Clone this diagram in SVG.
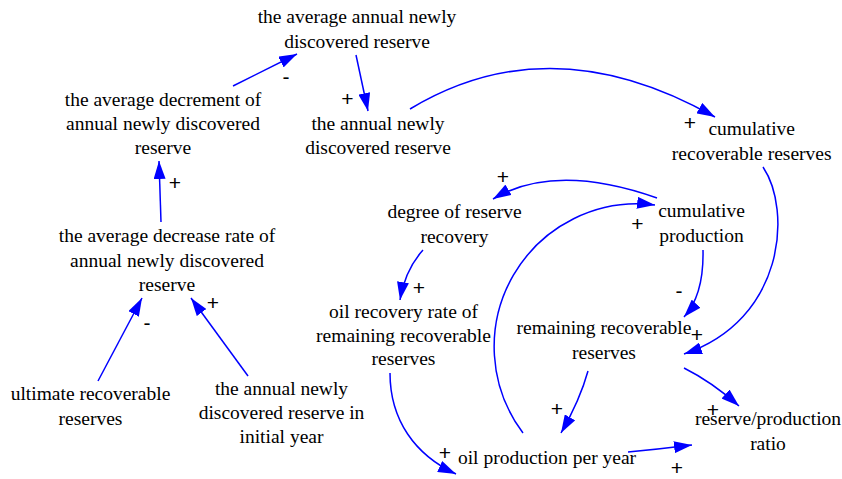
<svg xmlns="http://www.w3.org/2000/svg" width="842" height="479" viewBox="0 0 842 479">
<defs>
<style>
.n text{font-family:"Liberation Serif","Times New Roman",serif;font-size:19.5px;fill:#000;text-anchor:middle}
.lk path{fill:none;stroke:#0000FF;stroke-width:1.5;marker-end:url(#ah)}
.lb{font-family:"Liberation Sans",Arial,sans-serif;font-size:21px;fill:#000;text-anchor:middle}
</style>
<marker id="ah" markerUnits="userSpaceOnUse" markerWidth="18" markerHeight="12" refX="18" refY="6" orient="auto" viewBox="0 0 18 12">
<path d="M0,0 L18,6 L0,12 z" fill="#0000FF"/>
</marker>
</defs>
<rect width="842" height="479" fill="#fff"/>
<g id="connectors" class="lk">
<path d="M233,86 L297,54"/>
<path d="M356,55 L368,111"/>
<path d="M410,109 Q551,24 715,117"/>
<path d="M161,222 L159,161"/>
<path d="M98,381 L142,298"/>
<path d="M248,376 L191,298"/>
<path d="M423,250 Q405,270 400,300"/>
<path d="M657,198 Q555,162 493,199"/>
<path d="M523,433 A143,143 0 0 1 655,205"/>
<path d="M703,250 Q704,295 684,317"/>
<path d="M763,167 C792,210 785,320 684,354"/>
<path d="M390,373 C390,420 415,455 456,474"/>
<path d="M588,371 Q580,400 561,433"/>
<path d="M684,368 Q712,382 739,406"/>
<path d="M628,452 Q660,449 692,445"/>
</g>
<g id="labels">
<text class="lb" x="286" y="84">-</text>
<text class="lb" x="347.5" y="105.5">+</text>
<text class="lb" x="690" y="129.5">+</text>
<text class="lb" x="175" y="189.5">+</text>
<text class="lb" x="147" y="330">-</text>
<text class="lb" x="213" y="310">+</text>
<text class="lb" x="419" y="294.5">+</text>
<text class="lb" x="503" y="183.5">+</text>
<text class="lb" x="637.5" y="231">+</text>
<text class="lb" x="679" y="297.5">-</text>
<text class="lb" x="697" y="342">+</text>
<text class="lb" x="445" y="459.5">+</text>
<text class="lb" x="557" y="415.5">+</text>
<text class="lb" x="713" y="416.5">+</text>
<text class="lb" x="677" y="474.5">+</text>
</g>
<g id="n-avg-annual" class="n"><text x="357"><tspan x="357" y="23">the average annual newly</tspan><tspan x="357" y="48">discovered reserve</tspan></text></g>
<g id="n-avg-decrement" class="n"><text x="163"><tspan x="163" y="106">the average decrement of</tspan><tspan x="163" y="130">annual newly discovered</tspan><tspan x="163" y="154">reserve</tspan></text></g>
<g id="n-annual-new" class="n"><text x="378"><tspan x="378" y="130">the annual newly</tspan><tspan x="378" y="154">discovered reserve</tspan></text></g>
<g id="n-avg-rate" class="n"><text x="167"><tspan x="167" y="242">the average decrease rate of</tspan><tspan x="167" y="266.5">annual newly discovered</tspan><tspan x="167" y="291">reserve</tspan></text></g>
<g id="n-ultimate" class="n"><text x="90.5"><tspan x="90.5" y="400">ultimate recoverable</tspan><tspan x="90.5" y="425">reserves</tspan></text></g>
<g id="n-initial" class="n"><text x="281.5"><tspan x="281.5" y="395">the annual newly</tspan><tspan x="281.5" y="419">discovered reserve in</tspan><tspan x="281.5" y="443">initial year</tspan></text></g>
<g id="n-oil-rate" class="n"><text x="403.5"><tspan x="403.5" y="318">oil recovery rate of</tspan><tspan x="403.5" y="342">remaining recoverable</tspan><tspan x="403.5" y="365">reserves</tspan></text></g>
<g id="n-degree" class="n"><text x="454.5"><tspan x="454.5" y="218">degree of reserve</tspan><tspan x="454.5" y="243">recovery</tspan></text></g>
<g id="n-cum-rec" class="n"><text x="751.7"><tspan x="751.7" y="135">cumulative</tspan><tspan x="751.7" y="160">recoverable reserves</tspan></text></g>
<g id="n-cum-prod" class="n"><text x="701.5"><tspan x="701.5" y="217">cumulative</tspan><tspan x="701.5" y="242">production</tspan></text></g>
<g id="n-remaining" class="n"><text x="604"><tspan x="604" y="334">remaining recoverable</tspan><tspan x="604" y="359">reserves</tspan></text></g>
<g id="n-ratio" class="n"><text x="768"><tspan x="768" y="425">reserve/production</tspan><tspan x="768" y="449.5">ratio</tspan></text></g>
<g id="n-oil-prod" class="n"><text x="547" y="464">oil production per year</text></g>
</svg>
